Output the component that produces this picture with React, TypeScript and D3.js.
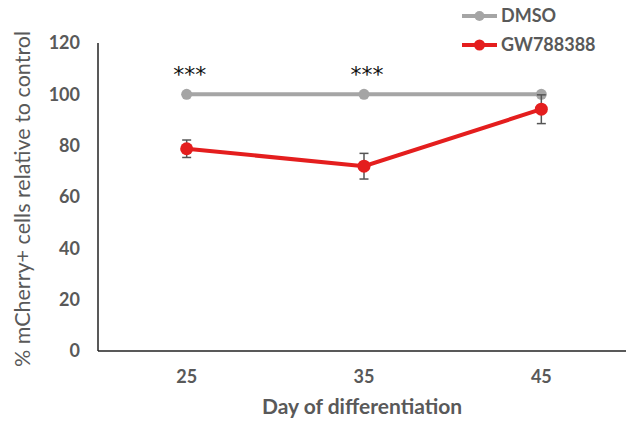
import React from 'react'
import { scaleBand, scaleLinear, line } from 'd3'

const days = ['25', '35', '45']
const dmso = [100, 100, 100]
const gw = [78.8, 72.0, 94.2]
const gwErr = [3.4, 5.0, 5.6]
const yTicks = [0, 20, 40, 60, 80, 100, 120]
const stars = ['***', '***', '']

const W = 626
const H = 423
const left = 98
const right = 630
const top = 43
const bottom = 351

const font = 'Lato, "Open Sans", sans-serif'
const textGray = '#595959'
const gray = '#a5a5a5'
const red = '#e41e1e'

export default function App() {
  const x = scaleBand().domain(days).range([left, right])
  const y = scaleLinear().domain([0, 120]).range([bottom, top])
  const cx = (d: string) => (x(d) as number) + x.bandwidth() / 2

  const path = line<number>()
    .x((_, i) => cx(days[i]))
    .y((v) => y(v))

  return (
    <svg width={W} height={H} style={{ position: 'absolute', left: 0, top: 0, background: '#fff' }}>
      {/* axes */}
      <line x1={left} x2={left} y1={top} y2={bottom} stroke="#222" strokeWidth={1.5} />
      <line x1={left} x2={W} y1={bottom} y2={bottom} stroke="#222" strokeWidth={1.5} />

      {yTicks.map((t) => (
        <text key={t} x={80} y={y(t)} dy="0.35em" textAnchor="end"
          fontFamily={font} fontWeight={700} fontSize={18} fill={textGray}>{t}</text>
      ))}
      {days.map((d) => (
        <text key={d} x={cx(d)} y={383} textAnchor="middle"
          fontFamily={font} fontWeight={700} fontSize={18} fill={textGray}>{d}</text>
      ))}

      <text x={362} y={414} textAnchor="middle" fontFamily={font} fontWeight={700}
        fontSize={21} fill={textGray}>Day of differentiation</text>
      <text transform={`translate(30,199) rotate(-90)`} textAnchor="middle" fontFamily={font}
        fontSize={21.5} fill={textGray}>% mCherry+ cells relative to control</text>

      {/* DMSO */}
      <path d={path(dmso) || ''} fill="none" stroke={gray} strokeWidth={4} />
      {dmso.map((v, i) => (
        <circle key={i} cx={cx(days[i])} cy={y(v)} r={5.5} fill={gray} />
      ))}

      {/* GW788388 error bars */}
      {gw.map((v, i) => {
        const px = cx(days[i])
        return (
          <g key={i} stroke="#555" strokeWidth={1.5}>
            <line x1={px} x2={px} y1={y(v + gwErr[i])} y2={y(v - gwErr[i])} />
            <line x1={px - 4.5} x2={px + 4.5} y1={y(v + gwErr[i])} y2={y(v + gwErr[i])} />
            <line x1={px - 4.5} x2={px + 4.5} y1={y(v - gwErr[i])} y2={y(v - gwErr[i])} />
          </g>
        )
      })}
      <path d={path(gw) || ''} fill="none" stroke={red} strokeWidth={4} />
      {gw.map((v, i) => (
        <circle key={i} cx={cx(days[i])} cy={y(v)} r={6.5} fill={red} />
      ))}

      {stars.map((s, i) => (
        <text key={i} x={cx(days[i]) + 3} y={82} textAnchor="middle" fontFamily="'DejaVu Sans', sans-serif"
          fontSize={22} fill="#111">{s}</text>
      ))}

      {/* legend */}
      <line x1={462} x2={497} y1={16} y2={16} stroke={gray} strokeWidth={4} />
      <circle cx={479.5} cy={16} r={5} fill={gray} />
      <text x={501} y={16} dy="0.35em" fontFamily={font} fontWeight={700} fontSize={18} fill={textGray}>DMSO</text>
      <line x1={462} x2={497} y1={45} y2={45} stroke={red} strokeWidth={4} />
      <circle cx={479.5} cy={45} r={5.5} fill={red} />
      <text x={501} y={45} dy="0.35em" fontFamily={font} fontWeight={700} fontSize={18} fill={textGray}>GW788388</text>
    </svg>
  )
}
